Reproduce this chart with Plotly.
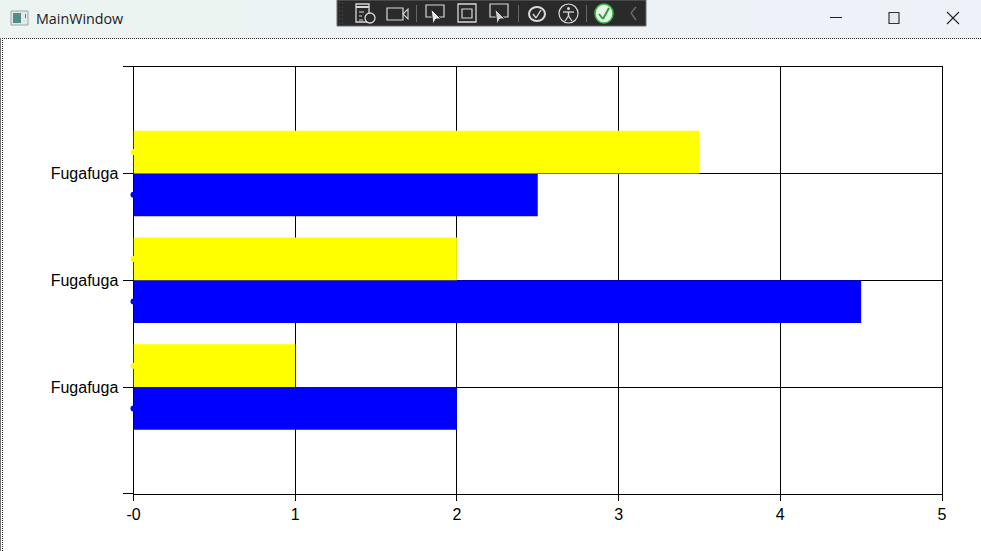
import plotly.graph_objects as go

W, H = 981, 551
categories = ["Fugafuga", "Fugafuga", "Fugafuga"]
cat_pos = [0, 1, 2]
series_blue = [2, 4.5, 2.5]
series_yellow = [1, 2, 3.5]
x_ticks = [0, 1, 2, 3, 4, 5]
x_labels = ["-0", "1", "2", "3", "4", "5"]
y_ticks = [-1, 0, 1, 2, 3]
y_labels = [""] + categories + [""]
BLUE, YELLOW = "#0000FF", "#FFFF00"
FONT = "Liberation Sans"

fig = go.Figure()
fig.add_bar(y=cat_pos, x=series_blue, orientation="h", marker=dict(color=BLUE, line_width=0), showlegend=False)
fig.add_bar(y=cat_pos, x=series_yellow, orientation="h", marker=dict(color=YELLOW, line_width=0), showlegend=False)
fig.add_scatter(y=[c - 0.2 for c in cat_pos], x=[0] * 3, mode="markers", cliponaxis=False,
                marker=dict(color=BLUE, size=6), showlegend=False)
fig.add_scatter(y=[c + 0.2 for c in cat_pos], x=[0] * 3, mode="markers", cliponaxis=False,
                marker=dict(color=YELLOW, size=6), showlegend=False)

shapes = []
def px(x): return x / W
def py(y): return 1 - y / H
def rect(x0, y0, x1, y1, fill=None, line=None, lw=1):
    shapes.append(dict(type="rect", xref="paper", yref="paper", x0=px(x0), x1=px(x1), y0=py(y0), y1=py(y1),
                       fillcolor=fill or "rgba(0,0,0,0)", line=dict(color=line or "rgba(0,0,0,0)", width=lw if line else 0)))
def seg(x0, y0, x1, y1, color, lw=1, dash=None):
    shapes.append(dict(type="line", xref="paper", yref="paper", x0=px(x0), x1=px(x1), y0=py(y0), y1=py(y1),
                       line=dict(color=color, width=lw, dash=dash or "solid")))
def circ(x0, y0, x1, y1, fill=None, line=None, lw=1):
    shapes.append(dict(type="circle", xref="paper", yref="paper", x0=px(x0), x1=px(x1), y0=py(y0), y1=py(y1),
                       fillcolor=fill or "rgba(0,0,0,0)", line=dict(color=line or "rgba(0,0,0,0)", width=lw if line else 0)))

# title bar gradient bands
for x0, x1, c in [(0, 250, "#ECF4F1"), (250, 500, "#ECF3F5"), (500, 750, "#EDF2F7"), (750, 981, "#EEF2F8")]:
    rect(x0, 0, x1, 38, fill=c)
seg(2, 38.5, W, 38.5, "#222222", 1, "1px,1px")
seg(2.5, 38, 2.5, H, "#222222", 1, "1px,1px")
seg(0.5, 38, 0.5, H, "#777777", 1)

# app icon
rect(11, 11, 28, 25, fill="#E4E8EA", line="#9AA5A8")
rect(13, 13, 21, 23, fill="#4F8F8A")
rect(25, 14, 26, 18, fill="#3F8F8F")
# window buttons
seg(830, 17.5, 842, 17.5, "#222222", 1)
rect(889, 12.5, 899, 23.5, fill="#E6EAEE", line="#333333", lw=1.2)
seg(947, 12, 959, 24, "#222222", 1.1)
seg(959, 12, 947, 24, "#222222", 1.1)

# debug toolbar
G = "#D8D8D8"
rect(337, 0, 646, 26, fill="#2A2A2A")
rect(337, 0, 646, 26, line="#6A6A6A")
for yy in range(3, 24, 4):
    seg(339, yy, 345, yy, "#555555", 1, "1px,2px")
rect(356, 4, 369, 22, line=G, lw=1.3)
seg(356, 7, 369, 7, G, 2)
seg(359, 12, 364, 12, G, 1); seg(359, 16, 362, 16, G, 1); seg(359, 20, 363, 20, G, 1)
circ(365, 13, 375, 23, fill="#2A2A2A", line=G, lw=1.3)
rect(387, 8, 403, 20, line=G, lw=1.2)
shapes.append(dict(type="path", xref="paper", yref="paper",
    path=f"M {px(403)} {py(14)} L {px(408)} {py(9)} L {px(408)} {py(19)} Z", line=dict(color=G, width=1.1)))
seg(416.5, 5, 416.5, 22, "#666666", 1)
rect(426, 5, 444, 17, line=G, lw=1.2)
shapes.append(dict(type="path", xref="paper", yref="paper",
    path=f"M {px(431)} {py(9)} L {px(441)} {py(19)} L {px(436)} {py(19)} L {px(433)} {py(24)} Z",
    fillcolor="#E8E8E8", line=dict(color="#2A2A2A", width=1)))
rect(458, 4, 476, 22, line=G, lw=1.3)
rect(462, 9, 472, 18, line=G, lw=1.2)
rect(490, 4, 508, 17, line=G, lw=1.2)
shapes.append(dict(type="path", xref="paper", yref="paper",
    path=f"M {px(495)} {py(9)} L {px(505)} {py(19)} L {px(500)} {py(19)} L {px(497)} {py(24)} Z",
    fillcolor="#D0D0D0", line=dict(color="#2A2A2A", width=1)))
seg(518.5, 5, 518.5, 22, "#666666", 1)
circ(529, 7, 545, 21, line=G, lw=2)
seg(533, 14, 536, 18, G, 1.4); seg(536, 18, 541, 10, G, 1.4)
circ(559, 4, 578, 23, line=G, lw=1.2)
circ(567, 7, 570, 10, fill=G)
seg(563, 12, 574, 12, G, 1.3); seg(568.5, 12, 568.5, 16, G, 1.5)
seg(568.5, 16, 565, 21, G, 1.3); seg(568.5, 16, 572, 21, G, 1.3)
seg(586.5, 5, 586.5, 22, "#666666", 1)
circ(595, 4, 613, 23, fill="#E6F2E6", line="#3FB54A", lw=1.6)
seg(599, 14, 603, 19, "#2E9E3A", 2); seg(603, 19, 609, 8, "#2E9E3A", 2)
seg(636, 7, 631, 13, "#6E6E6E", 1.3); seg(631, 13, 636, 20, "#6E6E6E", 1.3)

fig.update_layout(
    width=W, height=H, margin=dict(l=0, r=0, t=0, b=0, pad=0), autosize=False,
    paper_bgcolor="white", plot_bgcolor="white", barmode="group", bargap=0.2, bargroupgap=0,
    font=dict(family=FONT, size=16, color="black"), shapes=shapes, showlegend=False,
    annotations=[dict(text="MainWindow", xref="paper", yref="paper", x=px(34), y=py(18.5), xanchor="left",
                      yanchor="middle", showarrow=False, font=dict(family="Open Sans", size=14.3, color="#1A1A1A"))],
    xaxis=dict(domain=[px(133.5), px(942)], range=[0, 5], tickmode="array", tickvals=x_ticks, ticktext=x_labels,
               automargin=False,
               showgrid=True, gridcolor="black", gridwidth=1, zeroline=False, showline=True, mirror=True,
               linecolor="black", linewidth=1,
               ticks="outside", ticklen=6, tickcolor="black", tickwidth=1, layer="below traces"),
    yaxis=dict(domain=[py(493.9), py(66.6)], range=[-1, 3], tickmode="array", tickvals=y_ticks, ticktext=y_labels,
               automargin=False,
               showgrid=True, gridcolor="black", gridwidth=1, zeroline=False, showline=True, mirror=True,
               linecolor="black", linewidth=1,
               ticks="outside", ticklen=10, tickcolor="black", tickwidth=1, layer="below traces",
               ticklabelstandoff=1),
)
fig.write_html("out.html", post_script="document.body.style.margin='0';document.documentElement.style.overflow='hidden';",
               config=dict(displayModeBar=False))
